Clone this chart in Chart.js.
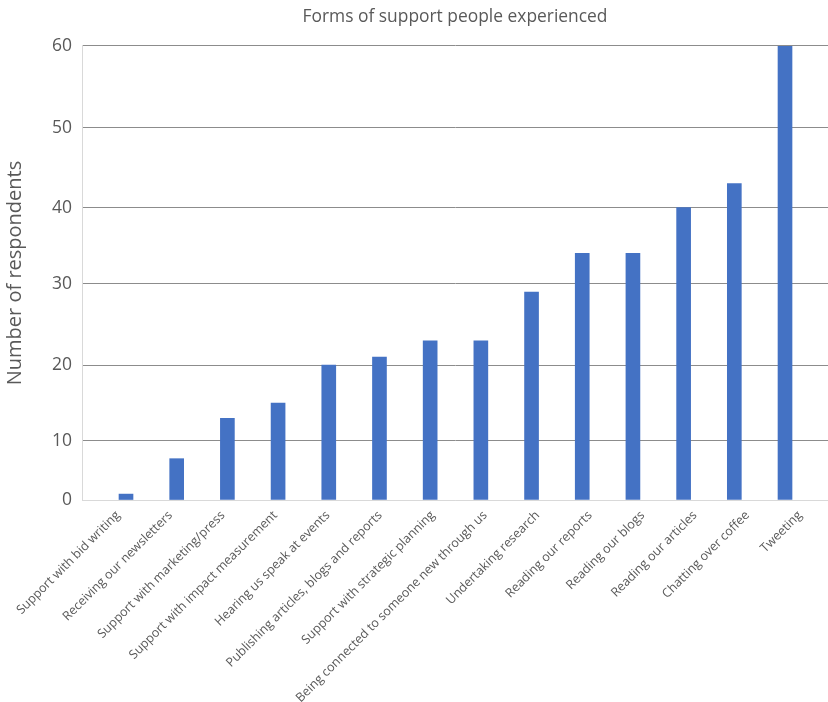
<!DOCTYPE html>
<html>
<head>
<meta charset="utf-8">
<script src="https://cdn.jsdelivr.net/npm/chart.js@4.4.1/dist/chart.umd.min.js"></script>
<style>
  html, body { margin: 0; padding: 0; background: #fff; }
  #wrap { width: 828px; height: 702px; }
</style>
</head>
<body>
<div id="wrap"><canvas id="chart"></canvas></div>
<script>
const categories = [
    'Support with bid writing',
    'Receiving our newsletters',
    'Support with marketing/press',
    'Support with impact measurement',
    'Hearing us speak at events',
    'Publishing articles, blogs and reports',
    'Support with strategic planning',
    'Being connected to someone new through us',
    'Undertaking research',
    'Reading our reports',
    'Reading our blogs',
    'Reading our articles',
    'Chatting over coffee',
    'Tweeting'
];
const respondents = [1, 7, 13, 15, 20, 21, 23, 23, 29, 34, 34, 40, 43, 60];
const yTicks = [0, 10, 20, 30, 40, 50, 60];

// the source axis is not evenly spaced: share of plot height at each tick
const tickStops = [0, 0.130, 0.297, 0.476, 0.644, 0.820, 1];

class StretchScale extends Chart.LinearScale {
    getPixelForValue(value) {
        let i = 0;
        while (i < yTicks.length - 2 && value > yTicks[i + 1]) i++;
        const t = (value - yTicks[i]) / (yTicks[i + 1] - yTicks[i]);
        return this.getPixelForDecimal(tickStops[i] + (tickStops[i + 1] - tickStops[i]) * t);
    }
    getValueForPixel(pixel) {
        const d = this.getDecimalForPixel(pixel);
        let i = 0;
        while (i < tickStops.length - 2 && d > tickStops[i + 1]) i++;
        const t = (d - tickStops[i]) / (tickStops[i + 1] - tickStops[i]);
        return yTicks[i] + (yTicks[i + 1] - yTicks[i]) * t;
    }
}
StretchScale.id = 'stretch';
StretchScale.defaults = Chart.LinearScale.defaults;
Chart.register(StretchScale);

const grey = '#595959';
const font = 'Open Sans, DejaVu Sans, sans-serif';

new Chart(document.getElementById('chart').getContext('2d'), {
    type: 'bar',
    data: {
        datasets: [{
            label: 'Number of respondents',
            data: respondents.map((v, i) => ({ x: i, y: v })),
            backgroundColor: '#4472C4',
            barThickness: 14
        }]
    },
    options: {
        responsive: true,
        maintainAspectRatio: false,
        animation: false,
        layout: { padding: { top: 7, right: 0, left: 0, bottom: 0 } },
        plugins: {
            legend: { display: false },
            tooltip: { enabled: false },
            title: {
                display: true,
                fullSize: false,
                text: 'Forms of support people experienced',
                color: grey,
                font: { family: font, size: 17.4, weight: 'normal' },
                padding: { top: 0, bottom: 18.1 }
            }
        },
        scales: {
            // bars sit on this axis
            x: {
                type: 'linear',
                display: false,
                offset: false,
                min: -0.868,
                max: 13.848
            },
            // category labels are spread a little wider than the bars
            labels: {
                type: 'linear',
                position: 'bottom',
                axis: 'x',
                offset: false,
                min: -0.686,
                max: 13.534,
                grid: { display: false },
                border: { color: '#d9d9d9' },
                afterFit: (scale) => { scale.height = 202; },
                ticks: {
                    stepSize: 1,
                    includeBounds: false,
                    autoSkip: false,
                    minRotation: 45,
                    maxRotation: 45,
                    labelOffset: 0,
                    padding: 0,
                    color: grey,
                    font: { family: font, size: 12.5 },
                    callback: (v) => categories[v] ?? ''
                }
            },
            y: {
                type: 'stretch',
                min: 0,
                max: 60,
                afterFit: (scale) => { scale.width = 82; },
                afterBuildTicks: (scale) => { scale.ticks = yTicks.map(v => ({ value: v })); },
                grid: {
                    drawTicks: false,
                    color: (ctx) => ctx.tick && ctx.tick.value === 0 ? '#d9d9d9' : '#8c8c8c',
                    lineWidth: 1
                },
                border: { color: '#d9d9d9' },
                ticks: {
                    padding: 10,
                    color: grey,
                    font: { family: font, size: 17.5 }
                },
                title: {
                    display: true,
                    text: 'Number of respondents',
                    color: grey,
                    font: { family: font, size: 20 },
                    padding: { top: 3, bottom: 0 }
                }
            }
        }
    }
});
</script>
</body>
</html>
